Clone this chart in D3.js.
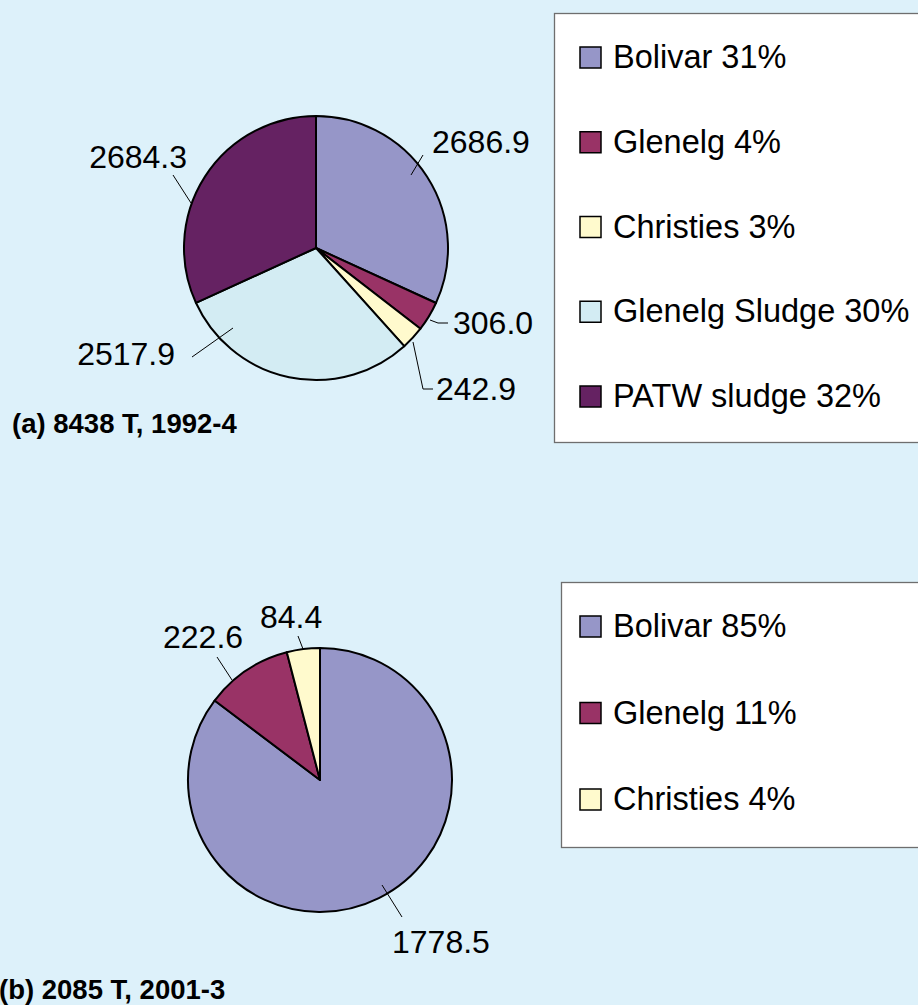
<!DOCTYPE html>
<html>
<head>
<meta charset="utf-8">
<script src="https://cdn.jsdelivr.net/npm/d3@7"></script>
<style>
  html, body { margin: 0; padding: 0; background: #ddf1fa; overflow: hidden; }
  svg { display: block; }
  text { font-family: "Liberation Sans", Arial, sans-serif; fill: #000; }
</style>
</head>
<body>
<script>
// data
var sourcesA = ["Bolivar", "Glenelg", "Christies", "Glenelg Sludge", "PATW sludge"];
var valuesA = [2686.9, 306.0, 242.9, 2517.9, 2684.3];
var legendA = ["Bolivar 31%", "Glenelg 4%", "Christies 3%", "Glenelg Sludge 30%", "PATW sludge 32%"];
var captionA = "(a) 8438 T, 1992-4";

var sourcesB = ["Bolivar", "Glenelg", "Christies"];
var valuesB = [1778.5, 222.6, 84.4];
var legendB = ["Bolivar 85%", "Glenelg 11%", "Christies 4%"];
var captionB = "(b) 2085 T, 2001-3";

var width = 918, height = 1005;

var color = d3.scaleOrdinal()
  .domain(sourcesA)
  .range(["#9696c8", "#993366", "#fffacd", "#d3ecf3", "#652262"]);

var fmt = d3.format(".1f");

// label layout, offsets from pie centre: text anchor + leader polyline
var layoutA = [
  {x: 116, y: -95, anchor: "start", leader: [[95, -73], [107, -93]]},
  {x: 137, y: 86, anchor: "start", leader: [[114, 72], [122, 75], [132, 75]]},
  {x: 120, y: 152, anchor: "start", leader: [[97, 94], [107, 141], [117, 141]]},
  {x: -141, y: 117, anchor: "end", leader: [[-83, 80], [-124, 109]]},
  {x: -129, y: -80, anchor: "end", leader: [[-125, -45], [-143, -73]]}
];
var layoutB = [
  {x: 72, y: 173, anchor: "start", leader: [[62, 105], [82, 137]]},
  {x: -157, y: -132, anchor: "start", leader: [[-88, -100], [-103, -123]]},
  {x: -60, y: -152, anchor: "start", leader: [[-17, -131], [-22, -144]]}
];

var svg = d3.select("body").append("svg")
  .attr("width", width)
  .attr("height", height);

var pie = d3.pie().sort(null).value(function(d) { return d; });
var radius = 132;
var arc = d3.arc().innerRadius(0).outerRadius(radius);

function drawPie(cx, cy, names, values, layout) {
  var g = svg.append("g").attr("transform", "translate(" + cx + "," + cy + ")");

  g.selectAll("path.slice")
    .data(pie(values))
    .enter()
    .append("path")
    .attr("class", "slice")
    .attr("d", arc)
    .style("fill", function(d, i) { return color(names[i]); })
    .style("stroke", "#000")
    .style("stroke-width", 2)
    .style("stroke-linejoin", "round");

  var line = d3.line();
  g.selectAll("path.leader")
    .data(layout)
    .enter()
    .append("path")
    .attr("class", "leader")
    .attr("d", function(d) { return line(d.leader); })
    .style("fill", "none")
    .style("stroke", "#000")
    .style("stroke-width", 1);

  g.selectAll("text.value")
    .data(values)
    .enter()
    .append("text")
    .attr("class", "value")
    .attr("x", function(d, i) { return layout[i].x; })
    .attr("y", function(d, i) { return layout[i].y; })
    .attr("text-anchor", function(d, i) { return layout[i].anchor; })
    .style("font-size", "32px")
    .text(function(d) { return fmt(d); });
}

function drawLegend(x, y, h, names, labels, step, firstBase) {
  var g = svg.append("g").attr("transform", "translate(" + x + "," + y + ")");
  g.append("rect")
    .attr("x", 0.5).attr("y", 0.5)
    .attr("width", width - x + 20)
    .attr("height", h)
    .style("fill", "#fff")
    .style("stroke", "#6e6e6e")
    .style("stroke-width", 1.3);

  var item = g.selectAll("g.item")
    .data(labels)
    .enter()
    .append("g")
    .attr("class", "item")
    .attr("transform", function(d, i) { return "translate(0," + (firstBase + i * step) + ")"; });

  item.append("rect")
    .attr("x", 26 - (x - 554)).attr("y", -21)
    .attr("width", 21).attr("height", 21)
    .style("fill", function(d, i) { return color(names[i]); })
    .style("stroke", "#000")
    .style("stroke-width", 1.5);

  item.append("text")
    .attr("x", 59 - (x - 554))
    .attr("y", 0)
    .style("font-size", "32.5px")
    .text(function(d) { return d; });
}

drawPie(316, 248, sourcesA, valuesA, layoutA);
drawPie(320, 780, sourcesB, valuesB, layoutB);

drawLegend(554, 13, 429, sourcesA, legendA, 84.75, 55);
drawLegend(561, 582, 265, sourcesB, legendB, 86.5, 55);

svg.append("text")
  .attr("x", 12).attr("y", 433)
  .style("font-size", "27.5px")
  .style("font-weight", "bold")
  .text(captionA);

svg.append("text")
  .attr("x", -1).attr("y", 999)
  .style("font-size", "27.5px")
  .style("font-weight", "bold")
  .text(captionB);
</script>
</body>
</html>
